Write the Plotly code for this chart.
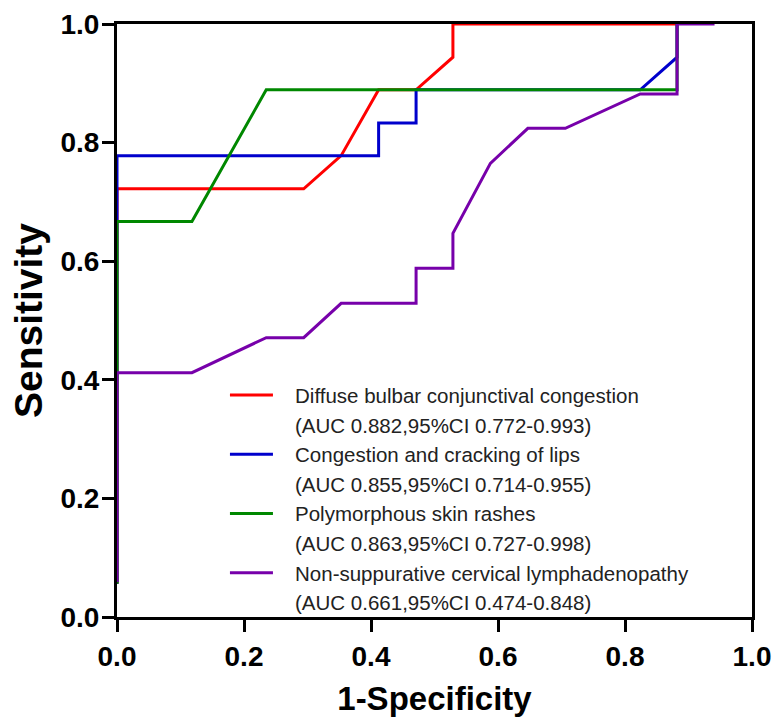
import plotly.graph_objects as go

# ROC curves (1-Specificity, Sensitivity)
red_x = [0.0, 0.0, 0.294, 0.353, 0.412, 0.471, 0.529, 0.529, 0.882]
red_y = [0.056, 0.722, 0.722, 0.778, 0.889, 0.889, 0.944, 1.0, 1.0]

blue_x = [0.0, 0.0, 0.412, 0.412, 0.471, 0.471, 0.824, 0.882, 0.882]
blue_y = [0.056, 0.778, 0.778, 0.833, 0.833, 0.889, 0.889, 0.944, 1.0]

green_x = [0.0, 0.0, 0.118, 0.235, 0.882, 0.882]
green_y = [0.056, 0.667, 0.667, 0.889, 0.889, 1.0]

purple_x = [0.0, 0.0, 0.118, 0.235, 0.294, 0.353, 0.471, 0.471, 0.529, 0.529,
            0.588, 0.647, 0.706, 0.824, 0.882, 0.882, 0.941]
purple_y = [0.059, 0.412, 0.412, 0.471, 0.471, 0.529, 0.529, 0.588, 0.588, 0.647,
            0.765, 0.824, 0.824, 0.882, 0.882, 1.0, 1.0]

names = [
    "Diffuse bulbar conjunctival congestion",
    "Congestion and cracking of lips",
    "Polymorphous skin rashes",
    "Non-suppurative cervical lymphadenopathy",
]
auc_labels = [
    "(AUC 0.882,95%CI 0.772-0.993)",
    "(AUC 0.855,95%CI 0.714-0.955)",
    "(AUC 0.863,95%CI 0.727-0.998)",
    "(AUC 0.661,95%CI 0.474-0.848)",
]
colors = ["#FF0000", "#0000CC", "#008800", "#7700AA"]
xs = [red_x, blue_x, green_x, purple_x]
ys = [red_y, blue_y, green_y, purple_y]

tick_vals = [0.0, 0.2, 0.4, 0.6, 0.8, 1.0]
tick_text = ["0.0", "0.2", "0.4", "0.6", "0.8", "1.0"]

FONT = "Arial, Liberation Sans, Helvetica, sans-serif"
PAD = "\u00a0\u00a0\u00a0"

fig = go.Figure()
for i in range(4):
    fig.add_trace(go.Scatter(
        x=xs[i], y=ys[i], mode="lines", name=PAD + names[i],
        line=dict(color=colors[i], width=3),
    ))
    # second legend line (AUC text) as a legend-only entry without a sample
    fig.add_trace(go.Scatter(
        x=[None], y=[None], mode="lines", name=PAD + auc_labels[i],
        line=dict(color="rgba(0,0,0,0)", width=3),
        hoverinfo="skip",
    ))

axis_common = dict(
    range=[0, 1], tickvals=tick_vals, ticktext=tick_text,
    showgrid=False, zeroline=False, showline=True, linecolor="black",
    linewidth=3, mirror=True, ticks="outside", ticklen=12, tickwidth=3,
    tickcolor="black", automargin=False,
    tickfont=dict(family=FONT, size=28, color="black", weight="bold"),
)

fig.update_layout(
    width=773, height=719,
    margin=dict(l=117, r=21, t=24, b=102),
    paper_bgcolor="white", plot_bgcolor="white",
    xaxis=dict(**axis_common,
               title=dict(text="1-Specificity", standoff=17,
                          font=dict(family=FONT, size=33, color="black", weight="bold"))),
    yaxis=dict(**axis_common, ticklabelstandoff=-3,
               title=dict(text="Sensitivity", standoff=6,
                          font=dict(family=FONT, size=39, color="black", weight="bold"))),
    legend=dict(
        x=0.17, y=0.408, xanchor="left", yanchor="top",
        bgcolor="rgba(0,0,0,0)", borderwidth=0,
        font=dict(family=FONT, size=20.5, color="#222222"),
        valign="middle", itemwidth=43, tracegroupgap=0,
    ),
    showlegend=True,
)

fig.write_html("out.html", config={"displayModeBar": False},
               post_script="document.body.style.margin='0';")
